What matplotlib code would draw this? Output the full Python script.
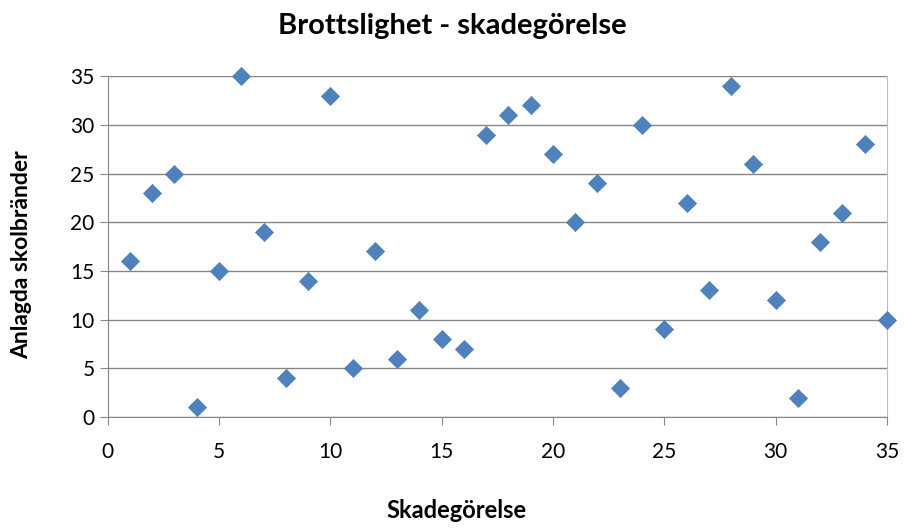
import matplotlib
matplotlib.use("Agg")
import matplotlib.pyplot as plt

plt.rcParams['font.family'] = ['Lato', 'DejaVu Sans']

# data
x_vals = list(range(1, 36))
y_vals = [16, 23, 25, 1, 15, 35, 19, 4, 14, 33, 5, 17, 6, 11, 8, 7, 29, 31, 32, 27,
          20, 24, 3, 30, 9, 22, 13, 34, 26, 12, 2, 18, 21, 28, 10]
x_ticks = [0, 5, 10, 15, 20, 25, 30, 35]
y_ticks = [0, 5, 10, 15, 20, 25, 30, 35]

fig = plt.figure(figsize=(9.05, 5.29), dpi=100)
ax = fig.add_axes([0.119, 0.2117, 0.861, 0.6443])

ax.scatter(x_vals, y_vals, marker='D', s=85, color='#4F81BD', edgecolors='#4A7EBB',
           linewidths=0.5, zorder=3, clip_on=False)

ax.set_xlim(0, 35)
ax.set_ylim(0, 35)
ax.set_xticks(x_ticks)
ax.set_yticks(y_ticks)
ax.yaxis.grid(True, color='#868686', linewidth=1)
ax.set_axisbelow(True)

ax.spines['top'].set_visible(False)
ax.spines['right'].set_color('#BFBFBF')
for s in ['left', 'bottom']:
    ax.spines[s].set_color('#868686')
ax.tick_params(axis='both', colors='#868686', labelcolor='black', labelsize=15,
               length=6, direction='out')
ax.tick_params(axis='x', pad=12)

# title and x label sit centred on the whole figure, like the Excel original
fig.text(0.5, 1 - 26 / 529, 'Brottslighet - skadegörelse', fontsize=21,
         fontweight='bold', ha='center', va='center')
fig.text(457 / 905, 1 - 510 / 529, 'Skadegörelse', fontsize=17,
         fontweight='bold', ha='center', va='center')
fig.text(22 / 905, 1 - 255 / 529, 'Anlagda skolbränder', fontsize=16.5,
         fontweight='bold', ha='center', va='center', rotation=90)

fig.savefig('out.png', dpi=100)
